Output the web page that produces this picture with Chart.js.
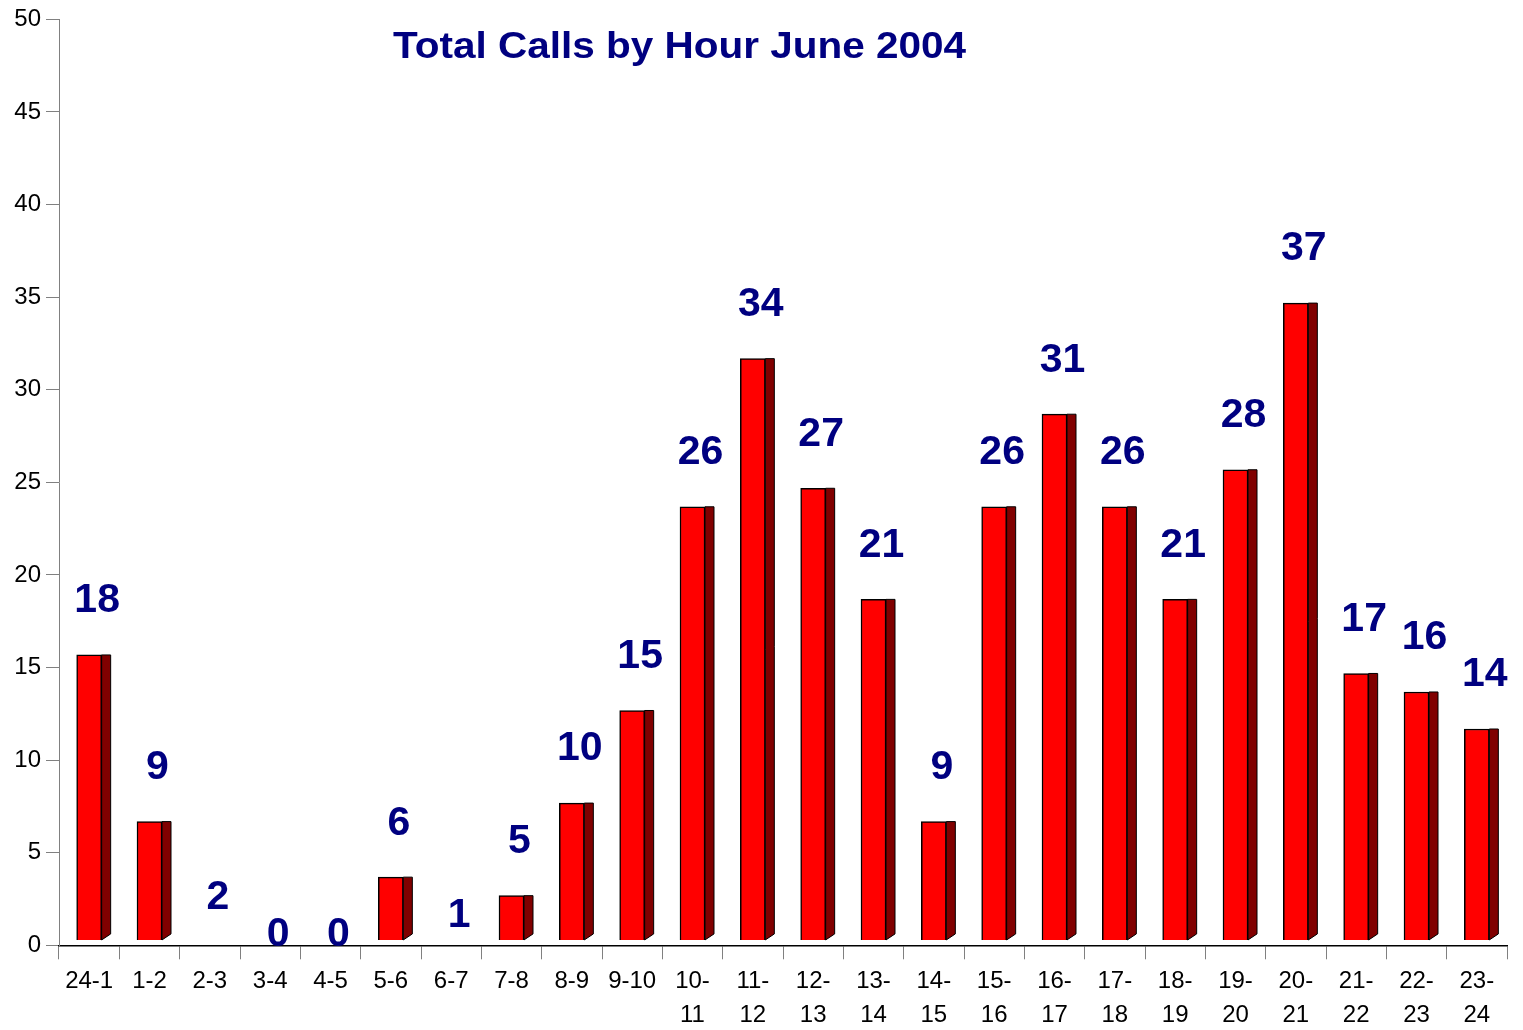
<!DOCTYPE html>
<html>
<head>
<meta charset="utf-8">
<script src="https://cdn.jsdelivr.net/npm/chart.js@4.4.0/dist/chart.umd.min.js"></script>
<style>
  body { margin: 0; background: #fff; }
</style>
</head>
<body>
<canvas id="myChart" width="1523" height="1030"></canvas>
<script>
const ctx = document.getElementById("myChart");

// Hour ranges and number of calls
const hours = ["24-1", "1-2", "2-3", "3-4", "4-5", "5-6", "6-7", "7-8", "8-9", "9-10",
  "10-11", "11-12", "12-13", "13-14", "14-15", "15-16", "16-17", "17-18", "18-19",
  "19-20", "20-21", "21-22", "22-23", "23-24"];
const calls = [18, 9, 2, 0, 0, 6, 1, 5, 10, 15, 26, 34, 27, 21, 9, 26, 31, 26, 21, 28, 37, 17, 16, 14];
const titleText = "Total Calls by Hour June 2004";

// Excel's 3D look: the bars sit on a floor behind the axis, so they are shifted down
const depthShift = 2.32;
const barBase = 2.61;

const NAVY = "#000080";

const sideFace = {
  id: "sideFace",
  afterDatasetsDraw(chart) {
    const c = chart.ctx;
    const meta = chart.getDatasetMeta(0);
    c.save();
    meta.data.forEach((bar, i) => {
      if (calls[i] <= barBase) return;
      const p = bar.getProps(["x", "y", "base", "width"], true);
      const r = p.x + p.width / 2;
      c.beginPath();
      c.moveTo(r, p.y);
      c.lineTo(r + 9, p.y);
      c.lineTo(r + 9, p.base - 6);
      c.lineTo(r, p.base);
      c.closePath();
      c.fillStyle = "#800000";
      c.fill();
      c.lineWidth = 1;
      c.strokeStyle = "#000";
      c.stroke();
    });
    // value labels
    const yScale = chart.scales.y;
    c.font = "bold 41px 'Liberation Sans', Arial, sans-serif";
    c.fillStyle = NAVY;
    c.textAlign = "center";
    c.textBaseline = "middle";
    meta.data.forEach((bar, i) => {
      c.fillText(String(calls[i]), bar.x + 8, yScale.getPixelForValue(calls[i]) - 11);
    });
    c.restore();
  },
  afterDraw(chart) {
    const c = chart.ctx;
    c.save();
    c.font = "bold 37px 'Liberation Sans', Arial, sans-serif";
    c.fillStyle = NAVY;
    c.textBaseline = "alphabetic";
    const w = c.measureText(titleText).width;
    c.translate(393, 58);
    c.scale(573 / w, 1);
    c.fillText(titleText, 0, 0);
    c.restore();
  },
};

new Chart(ctx, {
  type: "bar",
  data: {
    labels: hours,
    datasets: [
      {
        label: "Calls",
        data: calls,
        yAxisID: "y2",
        base: barBase,
        barThickness: 25,
        backgroundColor: (c) => (c.raw > barBase ? "#ff0000" : "rgba(0,0,0,0)"),
        borderColor: (c) => (c.raw > barBase ? "#000" : "rgba(0,0,0,0)"),
        borderWidth: 1.5,
      },
    ],
  },
  options: {
    responsive: false,
    animation: false,
    layout: { padding: { top: 6, right: 16, left: 0, bottom: 0 } },
    plugins: {
      legend: { display: false },
      tooltip: { enabled: false },
    },
    scales: {
      x: {
        afterFit: (scale) => { scale.height = 84.7; },
        grid: { drawOnChartArea: false, offset: true, tickLength: 14, color: "#808080" },
        border: { color: "#000", width: 1.5 },
        ticks: {
          autoSkip: false,
          maxRotation: 0,
          color: "#000",
          padding: 5,
          font: { family: "'Liberation Sans', Arial, sans-serif", size: 24, lineHeight: 1.42 },
          callback: function (v) {
            const s = this.getLabelForValue(v);
            const d = s.indexOf("-") + 1;
            return s.length > 4 ? [s.slice(0, d), s.slice(d)] : s;
          },
        },
      },
      y: {
        min: 0,
        max: 50,
        afterFit: (scale) => { scale.width = 59; },
        grid: { drawOnChartArea: false, tickLength: 13, color: "#808080" },
        border: { color: "#808080", width: 1 },
        ticks: {
          stepSize: 5,
          color: "#000",
          padding: 5,
          font: { family: "'Liberation Sans', Arial, sans-serif", size: 24 },
        },
      },
      y2: {
        display: false,
        min: depthShift,
        max: 50 + depthShift,
      },
    },
  },
  plugins: [sideFace],
});
</script>
</body>
</html>
